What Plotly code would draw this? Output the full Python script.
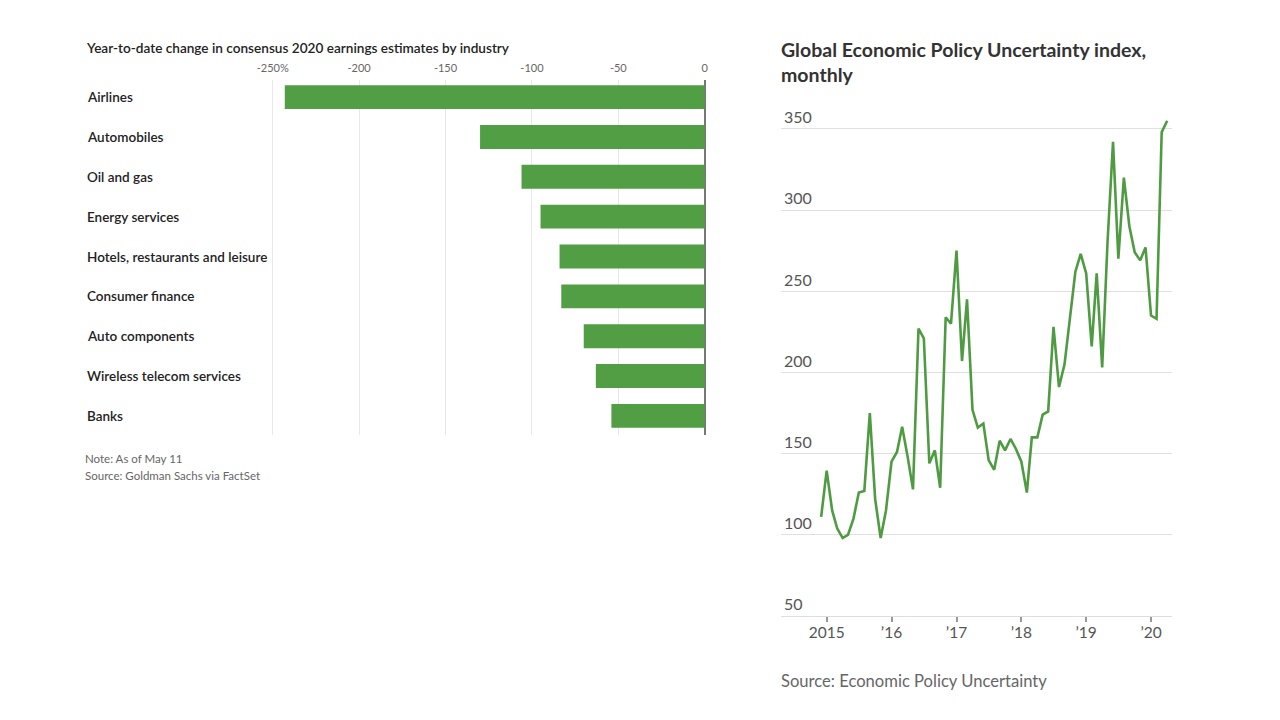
import plotly.graph_objects as go
import pandas as pd

# ---------------- data ----------------
industries = ["Airlines", "Automobiles", "Oil and gas", "Energy services",
              "Hotels, restaurants and leisure", "Consumer finance",
              "Auto components", "Wireless telecom services", "Banks"]
earnings_change = [-243, -130, -106, -95, -84, -83, -70, -63, -54]
bar_tickvals = [-250, -200, -150, -100, -50, 0]
bar_ticktext = ["-250%", "-200", "-150", "-100", "-50", "0"]

epu_start = "2014-12-01"
epu_values = [111, 139.5, 115, 104, 98, 100, 110, 126, 127, 175, 122, 98,
              115, 145, 151, 166.5, 148, 128, 227, 221, 144, 152, 129, 234,
              230, 275, 207, 245, 177, 166, 168.5, 146, 140, 158, 152, 159,
              153, 145, 126, 160, 160, 174, 176, 228, 191, 205, 233, 262,
              273, 261, 216, 261, 203, 280, 342, 270, 320, 290, 274, 269,
              277, 235, 233, 348, 355]
year_ticks = ["2015-01-01", "2016-01-01", "2017-01-01", "2018-01-01",
              "2019-01-01", "2020-01-01"]
year_labels = ["2015", "\u201916", "\u201917", "\u201918", "\u201919", "\u201920"]
epu_yticks = [50, 100, 150, 200, 250, 300, 350]

# ---------------- build ----------------
epu_dates = pd.date_range(epu_start, periods=len(epu_values), freq="MS")

W, H = 1280, 720
def px_x(a, b):
    return [a / W, b / W]
def px_y(top, bottom):
    return [1 - bottom / H, 1 - top / H]

GREEN = "#519e45"
FONT = "Lato"

fig = go.Figure()

fig.add_trace(go.Bar(
    x=earnings_change, y=industries, orientation="h",
    marker=dict(color=GREEN, line=dict(width=0)),
    width=0.6, xaxis="x", yaxis="y", hoverinfo="skip", showlegend=False))

fig.add_trace(go.Scatter(
    x=epu_dates, y=epu_values, mode="lines",
    line=dict(color="#4e9b42", width=2.6),
    xaxis="x2", yaxis="y2", hoverinfo="skip", showlegend=False))

annotations = []
for name in industries:
    annotations.append(dict(
        x=85 / W, xref="paper", y=name, yref="y", xanchor="left", yanchor="middle",
        text=name, showarrow=False,
        font=dict(family=FONT, size=13.5, color="#222222", weight=600)))

annotations += [
    dict(x=83.5 / W, y=1 - 48 / H, xref="paper", yref="paper", xanchor="left",
         yanchor="middle", showarrow=False,
         text="Year-to-date change in consensus 2020 earnings estimates by industry",
         font=dict(family=FONT, size=13.6, color="#222222", weight=600)),
    dict(x=83 / W, y=1 - 459 / H, xref="paper", yref="paper", xanchor="left",
         yanchor="middle", showarrow=False, text="Note: As of May 11",
         font=dict(family=FONT, size=11.5, color="#666666")),
    dict(x=83 / W, y=1 - 475 / H, xref="paper", yref="paper", xanchor="left",
         yanchor="middle", showarrow=False, text="Source: Goldman Sachs via FactSet",
         font=dict(family=FONT, size=11.5, color="#666666")),
    dict(x=779 / W, y=1 - 62 / H, xref="paper", yref="paper", xanchor="left",
         yanchor="middle", showarrow=False, align="left",
         text="Global Economic Policy Uncertainty index,<br>monthly",
         font=dict(family=FONT, size=19.5, color="#333333", weight=700)),
    dict(x=779 / W, y=1 - 681 / H, xref="paper", yref="paper", xanchor="left",
         yanchor="middle", showarrow=False, text="Source: Economic Policy Uncertainty",
         font=dict(family=FONT, size=16.6, color="#666666")),
]

fig.update_layout(
    width=W, height=H, margin=dict(l=0, r=0, t=0, b=0, autoexpand=False),
    paper_bgcolor="white", plot_bgcolor="white",
    xaxis=dict(domain=px_x(270, 707), range=[-251.56, 1.33], side="top",
               tickvals=bar_tickvals, ticktext=bar_ticktext,
               tickfont=dict(family=FONT, size=11, color="#666666"),
               ticklabelstandoff=5,
               showgrid=True, gridcolor="#e8e8e8", gridwidth=1,
               zeroline=True, zerolinecolor="#777777", zerolinewidth=1.5,
               showline=False, ticks="", anchor="y", fixedrange=True),
    yaxis=dict(domain=px_y(80, 435), range=[8.48, -0.43], type="category",
               showticklabels=False, showgrid=False, zeroline=False,
               showline=False, ticks="", anchor="x",
               categoryorder="array", categoryarray=industries),
    xaxis2=dict(domain=px_x(781, 1172), range=["2014-04-19", "2020-04-28"],
                type="date", tickvals=year_ticks, ticktext=year_labels,
                tickfont=dict(family=FONT, size=15.5, color="#555555"),
                ticks="outside", ticklen=5, tickcolor="#999999", tickwidth=1.5,
                ticklabelstandoff=-3,
                showgrid=False, showline=True, linecolor="#dddddd", linewidth=1,
                zeroline=False, anchor="y2"),
    yaxis2=dict(domain=px_y(99.6, 616), range=[50, 368],
                tickvals=epu_yticks, ticklabelposition="inside top",
                tickfont=dict(family=FONT, size=16, color="#555555"),
                showgrid=True, gridcolor="#e0e0e0", gridwidth=1,
                zeroline=False, showline=False, ticks="", anchor="x2"),
    annotations=annotations,
)

fig.write_html("out.html")
